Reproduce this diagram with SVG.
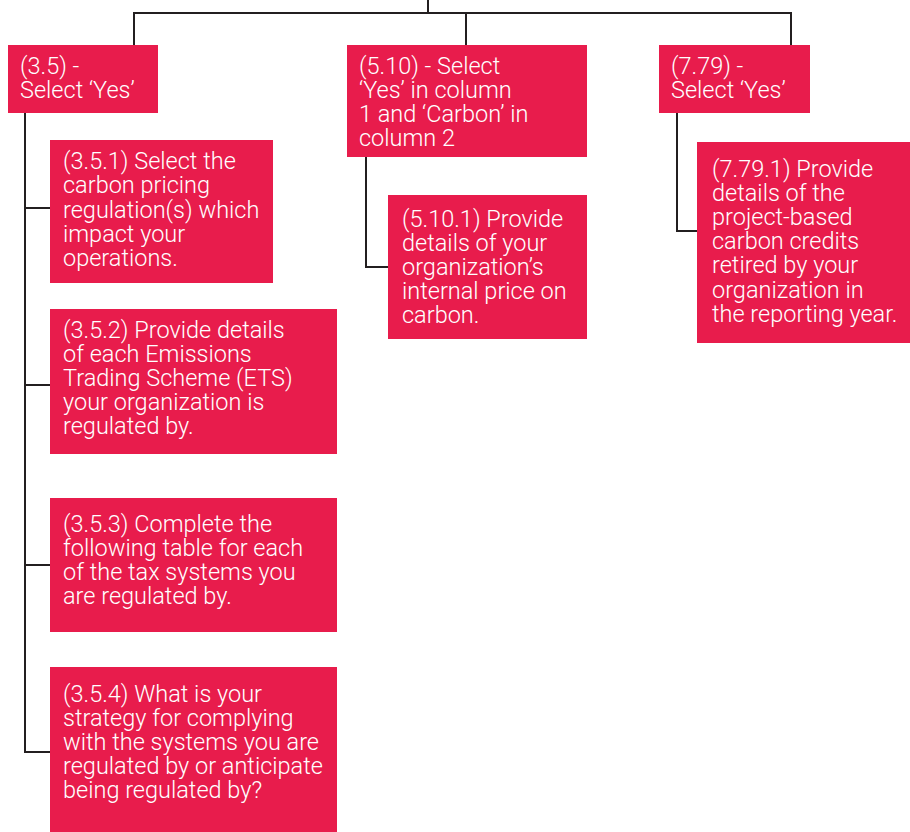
<svg xmlns="http://www.w3.org/2000/svg" width="910" height="832" viewBox="0 0 910 832">
<style>
.box{fill:#E81C4C;}
.t{font-family:Roboto,"Liberation Sans",sans-serif;font-weight:300;font-size:23.5px;fill:#ffffff;}
.c{fill:none;stroke:#231F20;stroke-width:2;}
</style>
<rect width="910" height="832" fill="#ffffff"/>
<g id="connectors">
<path class="c" d="M428,0 V13 M134,46 V13 H791 V46 M466,13 V46"/>
<path class="c" d="M25,113 V752 H50 M25,208 H50 M25,385 H50 M25,565 H50"/>
<path class="c" d="M366,157 V267 H388"/>
<path class="c" d="M677,113 V231 H697"/>
</g>
<g id="n35">
<rect class="box" x="8" y="45" width="150" height="68"/>
<text class="t" x="20" y="74">(3.5) -</text>
<text class="t" x="20" y="98">Select ‘Yes’</text>
</g>
<g id="n510">
<rect class="box" x="347" y="45" width="240" height="112"/>
<text class="t" x="359" y="74">(5.10) - Select</text>
<text class="t" x="359" y="98">‘Yes’ in column</text>
<text class="t" x="359" y="122">1 and ‘Carbon’ in</text>
<text class="t" x="359" y="146">column 2</text>
</g>
<g id="n779">
<rect class="box" x="659" y="45" width="151" height="68"/>
<text class="t" x="671" y="74">(7.79) -</text>
<text class="t" x="671" y="98">Select ‘Yes’</text>
</g>
<g id="n351">
<rect class="box" x="50" y="140" width="223" height="143"/>
<text class="t" x="63" y="169">(3.5.1) Select the</text>
<text class="t" x="63" y="193">carbon pricing</text>
<text class="t" x="63" y="218">regulation(s) which</text>
<text class="t" x="63" y="242">impact your</text>
<text class="t" x="63" y="266">operations.</text>
</g>
<g id="n352">
<rect class="box" x="50" y="309" width="287" height="145"/>
<text class="t" x="63" y="338">(3.5.2) Provide details</text>
<text class="t" x="63" y="362">of each Emissions</text>
<text class="t" x="63" y="386">Trading Scheme (ETS)</text>
<text class="t" x="63" y="410">your organization is</text>
<text class="t" x="63" y="434">regulated by.</text>
</g>
<g id="n353">
<rect class="box" x="50" y="498" width="287" height="134"/>
<text class="t" x="63" y="532">(3.5.3) Complete the</text>
<text class="t" x="63" y="556">following table for each</text>
<text class="t" x="63" y="580">of the tax systems you</text>
<text class="t" x="63" y="604">are regulated by.</text>
</g>
<g id="n354">
<rect class="box" x="50" y="667" width="287" height="165"/>
<text class="t" x="63" y="702">(3.5.4) What is your</text>
<text class="t" x="63" y="726">strategy for complying</text>
<text class="t" x="63" y="750">with the systems you are</text>
<text class="t" x="63" y="774">regulated by or anticipate</text>
<text class="t" x="63" y="798">being regulated by?</text>
</g>
<g id="n5101">
<rect class="box" x="388" y="195" width="199" height="144"/>
<text class="t" x="402" y="227">(5.10.1) Provide</text>
<text class="t" x="402" y="251">details of your</text>
<text class="t" x="402" y="275">organization’s</text>
<text class="t" x="402" y="299">internal price on</text>
<text class="t" x="402" y="323">carbon.</text>
</g>
<g id="n7791">
<rect class="box" x="697" y="142" width="213" height="201"/>
<text class="t" x="712" y="177">(7.79.1) Provide</text>
<text class="t" x="712" y="201">details of the</text>
<text class="t" x="712" y="225">project-based</text>
<text class="t" x="712" y="249">carbon credits</text>
<text class="t" x="712" y="273">retired by your</text>
<text class="t" x="712" y="298">organization in</text>
<text class="t" x="712" y="322">the reporting year.</text>
</g>
</svg>
